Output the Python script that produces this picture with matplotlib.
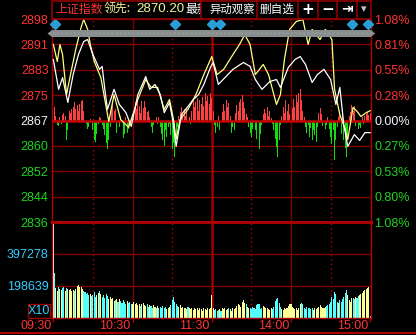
import numpy as np
import matplotlib
matplotlib.use("Agg")
import matplotlib.pyplot as plt
from matplotlib import transforms
from matplotlib.patches import Rectangle, Polygon
from matplotlib.lines import Line2D

# ---------------- data ----------------
pre_close = 2867.2
tick_steps = [4, 3, 2, 1, 0, -1, -2, -3, -4]
step_pct = 0.27
left_labels = ['2898', '2891', '2883', '2875', '2867', '2860', '2852', '2844', '2836']
right_labels = ['1.08%', '0.81%', '0.55%', '0.28%', '0.00%', '0.27%', '0.53%', '0.80%', '1.08%']

time_ticks = [0, 60, 120, 180, 240]
time_labels = ['09:30', '10:30', '11:30', '14:00', '15:00']
dotted_times = [30, 90, 150, 210]

vol_ticks = [198639, 397278]
vol_labels = ['198639', '397278']
vol_top = 595917

# white line: index price (minute, price)
white_m = [0, 4, 7, 11, 15, 19, 23, 26, 30, 35, 37, 39, 41, 46, 50, 55, 59, 64, 70, 73,
           77, 81, 84, 88, 91, 93, 97, 102, 106, 110, 114, 119, 121, 125, 130, 136, 144, 149,
           153, 158, 164, 169, 172, 178, 183, 187, 191, 196, 200, 205, 210, 214, 217, 220,
           223, 228, 232, 236, 240]
white_p = [2885.8, 2876.7, 2880.3, 2872.7, 2881.2, 2887.3, 2891.3, 2891.9, 2887.3, 2882.8,
           2883.7, 2876.7, 2870.6, 2876.7, 2872.1, 2869.6, 2865.4, 2875.1, 2880.6, 2876.7,
           2878.2, 2875.1, 2869.6, 2872.7, 2866.0, 2859.3, 2869.0, 2871.5, 2873.6, 2875.1,
           2878.2, 2883.4, 2884.9, 2878.2, 2880.3, 2882.8, 2884.9, 2883.7, 2879.7, 2876.7,
           2879.1, 2879.7, 2877.3, 2883.4, 2885.8, 2886.7, 2884.3, 2878.8, 2881.2, 2882.8,
           2879.7, 2872.1, 2877.3, 2866.0, 2859.3, 2862.9, 2861.1, 2863.5, 2863.5]

# yellow line: leading indicator (minute, value)
yellow_m = [0, 3, 5, 7, 10, 13, 17, 21, 23, 26, 28, 31, 36, 39, 42, 46, 51, 57, 64, 70,
            74, 79, 84, 88, 91, 93, 96, 102, 108, 114, 120, 124, 129, 136, 141, 145, 149,
            153, 159, 163, 169, 172, 175, 179, 184, 189, 193, 196, 202, 206, 211, 213, 217,
            221, 223, 227, 230, 233, 237, 240]
yellow_p = [2890.4, 2885.2, 2890.4, 2887.3, 2875.1, 2881.2, 2888.9, 2895.6, 2898.0, 2895.0,
            2890.4, 2885.2, 2880.3, 2873.6, 2866.9, 2875.1, 2867.5, 2865.1, 2873.6, 2879.7,
            2877.3, 2877.3, 2870.6, 2873.6, 2867.5, 2861.4, 2867.5, 2870.6, 2875.1, 2881.2,
            2886.7, 2881.2, 2882.8, 2887.3, 2890.4, 2893.4, 2890.4, 2881.2, 2884.3, 2881.2,
            2872.1, 2875.1, 2885.8, 2895.0, 2897.4, 2898.0, 2890.4, 2895.0, 2891.9, 2895.0,
            2891.9, 2876.7, 2869.0, 2864.5, 2861.4, 2871.2, 2870.0, 2868.4, 2869.6, 2870.2]

# red/green strength bars, one per minute (points from pre-close)
strength = [
    0, 4.0, 1.5, -1.5, -1.8, 1.2, -1.2, 1.8, 2.4, 1.5,
    -5.8, -3.0, 3.0, 2.4, 3.6, 4.0, 5.5, 3.6, 4.8, 3.0,
    5.0, 6.1, 6.4, 3.0, 0.6, -1.0, -2.7, -2.0, 0.5, -0.6,
    -3.0, -5.8, -6.7, -4.0, -1.2, 1.2, 0.9, -1.5, -2.5, -4.5,
    -7.0, -8.8, -6.0, -2.0, 3.4, 4.9, 2.8, 3.6, -3.7, -4.9,
    -2.0, 1.5, -3.0, -5.2, -4.0, 1.0, -3.7, -2.5, -1.2, 0.6,
    0.6, 2.0, 5.5, 3.5, 6.4, 4.5, 2.4, 5.8, 3.8, 6.1,
    4.0, 2.5, 3.0, 1.0, -2.0, -3.7, -1.5, -2.7, 1.2, -1.0,
    1.2, -2.0, -4.0, -6.0, -7.9, -3.0, -5.0, -2.0, -1.0, -4.5,
    -8.8, -7.0, -11.0, -5.5, -2.0, 1.5, 2.7, 4.0, 2.0, 3.4,
    1.5, 3.9, 2.5, 1.2, -1.0, 3.0, 6.4, 4.0, 5.5, 7.0,
    3.0, 6.4, 5.0, 7.3, 4.3, 8.5, 6.0, 7.6, 4.9, 8.5,
    7.0, 3.0, -1.5, -3.7, -2.0, 1.5, -3.0, -1.0, 2.5, 4.9,
    3.0, 6.4, 4.0, 5.2, 1.5, -3.7, -2.0, -3.0, 2.4, 4.6,
    3.0, 5.5, 6.7, 7.9, 5.5, 3.7, 2.0, 1.0, -2.0, -3.7,
    -4.9, -2.7, -6.0, -3.0, -5.5, -7.0, -8.8, -4.0, -1.5, 2.0,
    3.4, 2.4, 4.0, 1.5, 3.0, 0.8, -1.2, -3.0, -5.5, -8.0,
    -11.0, -6.0, -1.5, 1.5, 4.0, 2.4, 6.4, 3.0, 4.9, 2.0,
    5.5, 3.7, 6.7, 4.0, 7.9, 5.5, 8.5, 9.5, 6.4, 3.0,
    1.0, -2.0, -3.7, -1.5, -4.9, -2.4, -5.8, -3.0, -4.5, -6.7,
    -2.0, 2.4, 3.7, 2.0, -1.8, 1.5, -2.7, -1.5, 1.0, -2.5,
    -4.9, -7.3, -3.0, -11.9, -6.0, -2.0, 1.2, 2.4, -4.0, 3.4,
    -6.1, -8.5, -11.0, -5.0, 1.5, 2.5, 4.6, 3.0, 4.3, -1.8,
    1.2, -2.7, -1.5, -2.4, 1.0, -1.2, 1.5, 2.0, 2.7, 1.8,
    2.4]

# volume per minute, thousands
volume_k = [
    600, 279, 185, 170, 190, 180, 175, 188, 190, 170,
    185, 178, 172, 180, 168, 175, 165, 180, 200, 205,
    195, 190, 180, 165, 160, 150, 155, 140, 150, 135,
    145, 160, 130, 140, 155, 170, 150, 130, 140, 125,
    150, 135, 120, 130, 115, 125, 105, 110, 120, 100,
    115, 105, 95, 110, 100, 90, 105, 95, 100, 85,
    90, 100, 85, 95, 80, 90, 75, 85, 95, 80,
    75, 85, 70, 80, 75, 65, 80, 70, 60, 75,
    65, 70, 60, 75, 65, 70, 55, 60, 70, 80,
    110, 130, 100, 85, 75, 70, 80, 65, 70, 60,
    65, 55, 70, 60, 55, 65, 50, 60, 55, 65,
    50, 60, 55, 45, 60, 55, 50, 65, 55, 60,
    143, 60, 50, 55, 45, 50, 55, 45, 60, 55,
    60, 50, 55, 60, 55, 45, 60, 55, 65, 75,
    85, 80, 70, 100, 110, 95, 85, 70, 65, 60,
    55, 70, 60, 55, 80, 90, 85, 55, 65, 75,
    70, 60, 65, 55, 50, 60, 55, 70, 105, 120,
    125, 95, 70, 55, 50, 60, 55, 65, 75, 90,
    85, 70, 65, 55, 60, 50, 65, 85, 95, 90,
    65, 55, 70, 60, 65, 55, 60, 50, 65, 55,
    60, 70, 80, 70, 65, 60, 70, 75, 80, 85,
    100, 130, 120, 160, 150, 100, 95, 110, 100, 120,
    130, 155, 174, 140, 110, 100, 125, 125, 120, 130,
    125, 135, 140, 150, 155, 165, 175, 180, 186, 190,
    15]

volume_dir = ("wcyycyyccy" "cyyyyycyyy" "yyycccccyc" "cccyycyccc" "ccyyyyycyc"
              "ycccccyccc" "yyyyyycyyy" "yccyccyycy" "ccccccyyyc" "cccccyyyyy"
              "yycyyyyyyy" "yyyyyyyyyy" "yyccccycyy" "yyycyyyyyy" "yyyyyycyyc"
              "cccccccccy" "yyyyyycccc" "cccyyyyyyy" "yyyyyyyycc" "cccccccyyy"
              "yyyyyyyccc" "ccccccyccc" "cccyyyyccy" "ccyyyyyyyy" "c")

event_minutes = [1, 92, 120, 126, 226, 238]

header_name = '上证指数'
header_lead = '领先:'
header_lead_val = '2870.20'
header_latest = '最新'
buttons = ['异动观察', '删自选']

# ---------------- style ----------------
BG = 'black'
GRID = '#800000'
AXRED = '#b00000'
RED_TXT = '#ff3434'
GREEN_TXT = '#1ed41e'
CYAN_TXT = '#33ccff'
NUM_FONT = 'Liberation Sans'
CJK = ['Noto Sans CJK SC', 'DejaVu Sans']

W, H = 416, 335
def fx(px):
    return px / W
def fy(py):
    return 1 - py / H

fig = plt.figure(figsize=(W / 100, H / 100), dpi=100, facecolor=BG)

ax = fig.add_axes([fx(52), fy(222), fx(371) - fx(52), fy(19) - fy(222)])
axv = fig.add_axes([fx(52), fy(318), fx(371) - fx(52), fy(222) - fy(318)], sharex=ax)
for a in (ax, axv):
    a.set_facecolor(BG)
    for s in a.spines.values():
        s.set_color(AXRED)
        s.set_linewidth(1.0)

minutes = np.arange(len(strength))
ax.set_xlim(-1.0, 240.6)
ymin = pre_close * (1 - 4 * step_pct / 100)
ymax = pre_close * (1 + 4 * step_pct / 100)
ax.set_ylim(ymin, ymax)
tick_prices = [pre_close * (1 + k * step_pct / 100) for k in tick_steps]

# horizontal grid in price panel
for k, p in zip(tick_steps, tick_prices):
    if k in (4, -4, 0):
        continue
    ax.axhline(p, color=GRID, lw=1.0, zorder=1)
ax.spines['top'].set_color(GRID)
ax.spines['bottom'].set_linewidth(2.0)
ax.spines['bottom'].set_color(AXRED)

# vertical lines
for a in (ax, axv):
    for m in dotted_times:
        a.axvline(m, color='#b00000', lw=1.0, ls=(0, (1, 2.2)), zorder=1)
    a.axvline(60, color=GRID, lw=1.0, zorder=1)
    a.axvline(180, color=GRID, lw=1.0, zorder=1)
    a.axvline(120, color='#a00000', lw=1.8, zorder=1)

# strength bars
s_arr = np.array(strength)
bar_cols = ['#ff4040' if v > 0 else '#11dd11' for v in s_arr]
ax.bar(minutes, s_arr, bottom=pre_close, width=0.72, color=bar_cols, zorder=2, linewidth=0)
ax.axhline(pre_close, color='#c00000', lw=1.8, zorder=3)

# lines
ax.plot(yellow_m, yellow_p, color='#ffff80', lw=0.9, zorder=4)
ax.plot(white_m, white_p, color='#ffffff', lw=0.9, zorder=5)

# event diamonds
ax.plot(event_minutes, [0.975] * len(event_minutes), transform=ax.get_xaxis_transform(),
        ls='none', marker='D', ms=4.6, color='#2a9fd6', mec='#2a9fd6', clip_on=False, zorder=8)

# y tick labels (left = price, right = percent)
ax.set_yticks(tick_prices)
ax.set_yticklabels(left_labels, fontfamily=NUM_FONT, fontsize=9)
ax.tick_params(axis='y', length=0, pad=2.5)
ax.tick_params(axis='x', length=0, labelbottom=False)
for k, t in zip(tick_steps, ax.get_yticklabels()):
    t.set_color(RED_TXT if k > 0 else ('#f4f4ff' if k == 0 else GREEN_TXT))

ax2 = ax.twinx()
ax2.set_ylim(ymin, ymax)
ax2.set_yticks(tick_prices)
ax2.set_yticklabels(right_labels, fontfamily=NUM_FONT, fontsize=9)
ax2.tick_params(axis='y', length=0, pad=2.5)
for s in ax2.spines.values():
    s.set_visible(False)
for k, t in zip(tick_steps, ax2.get_yticklabels()):
    t.set_color(RED_TXT if k > 0 else ('#f4f4ff' if k == 0 else GREEN_TXT))

# volume panel
vol = np.array(volume_k) * 1000
col_map = {'w': '#ffffff', 'y': '#ffff99', 'c': '#55ffff'}
vcols = [col_map[c] for c in volume_dir]
axv.bar(minutes, vol, width=0.8, color=vcols, linewidth=0, zorder=2)
axv.set_ylim(0, vol_top)
for v in vol_ticks:
    axv.axhline(v, color=GRID, lw=1.0, zorder=1)
axv.set_yticks(vol_ticks)
axv.set_yticklabels(vol_labels, fontfamily=NUM_FONT, fontsize=9, color=CYAN_TXT)
axv.tick_params(axis='y', length=0, pad=2.5)
axv.spines['top'].set_linewidth(2.0)
axv.set_xticks(time_ticks)
axv.tick_params(axis='x', direction='out', length=3.2, width=1, color=AXRED, labelbottom=False)
lab_tr = transforms.offset_copy(axv.get_xaxis_transform(), fig=fig, x=-2, y=-8, units='dots')
for m, lab in zip(time_ticks, time_labels):
    axv.text(m, 0, lab, transform=lab_tr, ha='right', va='center', color=RED_TXT,
             fontfamily=NUM_FONT, fontsize=9, clip_on=False)

# X10 box
fig.add_artist(Rectangle((fx(27.5), fy(318)), fx(50) - fx(27.5), fy(304) - fy(318),
                         transform=fig.transFigure, fc='none', ec='#a00000', lw=1.0))
fig.text(fx(38.8), fy(311), 'X10', ha='center', va='center', color=CYAN_TXT,
         fontfamily=NUM_FONT, fontsize=9)

# bottom line
fig.add_artist(Line2D([0, 1], [fy(333), fy(333)], transform=fig.transFigure, color=AXRED, lw=1.5))

# gray scroll band
band = Polygon([(fx(47.5), fy(33.5)), (fx(52), fy(30)), (fx(371), fy(30)), (fx(375), fy(33.5)),
                (fx(371), fy(37)), (fx(52), fy(37))], closed=True, transform=fig.transFigure,
               fc='#878d8d', ec='#969c9c', lw=0, hatch='....', zorder=6)
fig.add_artist(band)

# header
fig.text(fx(55), fy(9.5), header_name, color=RED_TXT, fontfamily=CJK, fontsize=8.6,
         ha='left', va='center', zorder=3)
fig.text(fx(104), fy(9.5), header_lead, color='#f2f29a', fontfamily=CJK, fontsize=8.6,
         ha='left', va='center', zorder=3)
fig.text(fx(136.5), fy(9.5), header_lead_val, color='#f2f29a', fontfamily=NUM_FONT, fontsize=9.6,
         ha='left', va='center', zorder=3)
latest = fig.text(fx(185), fy(9.5), header_latest, color='white', fontfamily=CJK, fontsize=8.6,
                  ha='left', va='center', zorder=3)
clip_rect = Rectangle((fx(150), fy(18)), fx(200.5) - fx(150), fy(0.5) - fy(18),
                      transform=fig.transFigure, fc='none', ec='none')
latest.set_clip_path(clip_rect)
fig.add_artist(Rectangle((fx(52), fy(18.5)), fx(371) - fx(52), fy(0.5) - fy(18.5),
                         transform=fig.transFigure, fc='none', ec='#900000', lw=1.2, zorder=5))
for xd in [201, 257, 298, 318, 337, 357]:
    fig.add_artist(Line2D([fx(xd), fx(xd)], [fy(18.5), fy(0.5)], transform=fig.transFigure,
                          color='#900000', lw=1.2, zorder=5))
fig.text(fx(232.5), fy(9.5), buttons[0], color='white', fontfamily=CJK, fontsize=8.2,
         ha='center', va='center', zorder=6)
fig.text(fx(277.5), fy(9.5), buttons[1], color='white', fontfamily=CJK, fontsize=8.4,
         ha='center', va='center', zorder=6)
fig.text(fx(308), fy(9.3), '+', color='white', fontfamily='DejaVu Sans', fontweight='bold',
         fontsize=11, ha='center', va='center', zorder=6)
fig.text(fx(327.5), fy(9.3), '\u2212', color='white', fontfamily='DejaVu Sans', fontweight='bold',
         fontsize=11, ha='center', va='center', zorder=6)
fig.text(fx(347), fy(9.3), '\u21e5', color='white', fontfamily='DejaVu Sans', fontweight='bold',
         fontsize=10, ha='center', va='center', zorder=6)
fig.text(fx(364), fy(9.3), '\u25be', color='#c8c8c8', fontfamily='DejaVu Sans',
         fontsize=8, ha='center', va='center', zorder=6)

fig.savefig('out.png', dpi=100, facecolor=BG)
